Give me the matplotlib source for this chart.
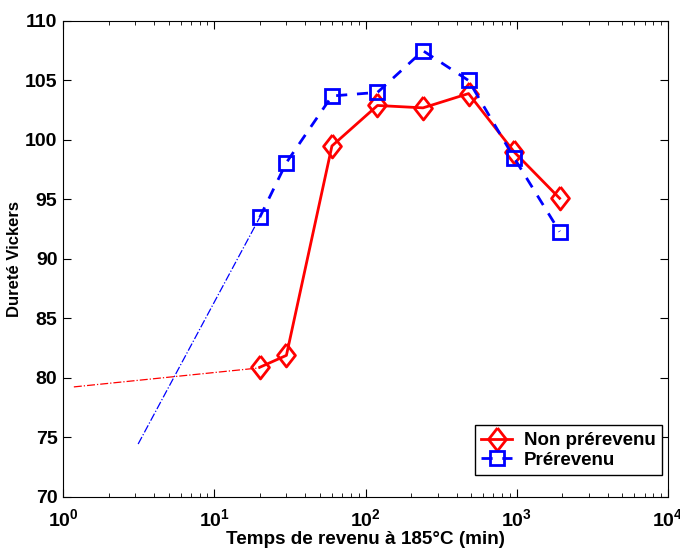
import matplotlib
matplotlib.use('Agg')  # Use non-interactive backend
import matplotlib.pyplot as plt
from matplotlib.ticker import LogLocator, FixedLocator

plt.rcParams['font.family'] = ['Liberation Sans', 'DejaVu Sans']
plt.rcParams['font.weight'] = 'bold'
plt.rcParams['mathtext.default'] = 'bf'

# measured times (min) and hardness
times = [20, 30, 60, 120, 240, 480, 960, 1920]
hv_non_prerevenu = [80.9, 81.9, 99.5, 102.9, 102.7, 103.9, 99.0, 95.1]
hv_prerevenu = [93.5, 98.1, 103.7, 104.0, 107.5, 105.0, 98.5, 92.3]

# extrapolation segments towards short times
extra_red_x = [1.18, 20]
extra_red_y = [79.25, 80.85]
extra_blue_x = [3.14, 20]
extra_blue_y = [74.45, 93.5]

yticks = [70, 75, 80, 85, 90, 95, 100, 105, 110]

# matlab-like diamond, a bit taller than wide
diamond = [(0, 1), (0.78, 0), (0, -1), (-0.78, 0), (0, 1)]

fig = plt.figure(figsize=(6.8, 5.48), dpi=100)
ax = fig.add_axes([0.0926, 0.0931, 0.8898, 0.8686])

ax.plot(extra_red_x, extra_red_y, color='red', linestyle='-.', linewidth=0.9)
ax.plot(extra_blue_x, extra_blue_y, color='blue', linestyle='-.', linewidth=0.9)

ax.plot(times, hv_non_prerevenu, color='red', linestyle='-', linewidth=2,
        marker=diamond, markersize=16.5, markerfacecolor='none', markeredgewidth=2,
        label='Non prérevenu')
ax.plot(times, hv_prerevenu, color='blue', linestyle='--', linewidth=2,
        dashes=(4, 3.5), marker='s', markersize=10, markerfacecolor='none',
        markeredgewidth=2, label='Prérevenu')

ax.set_xscale('log')
ax.set_xlim(1, 1e4)
ax.set_ylim(70, 110)
ax.yaxis.set_major_locator(FixedLocator(yticks))
ax.xaxis.set_major_locator(LogLocator(base=10, numticks=10))
ax.xaxis.set_minor_locator(LogLocator(base=10, subs=range(2, 10), numticks=20))

ax.tick_params(which='both', direction='in', top=True, right=True)
ax.tick_params(which='major', length=6, labelsize=14)
ax.tick_params(axis='x', which='major', pad=8)
ax.tick_params(axis='y', which='major', pad=4)
ax.tick_params(which='minor', length=3)
for lbl in ax.get_xticklabels() + ax.get_yticklabels():
    lbl.set_fontweight('bold')

ax.set_xlabel('Temps de revenu à 185°C (min)', fontsize=13.6, fontweight='bold', labelpad=1)
ax.set_ylabel('Dureté Vickers', fontsize=12, fontweight='bold', labelpad=2)

leg = ax.legend(loc='lower right', bbox_to_anchor=(0.990, 0.046), borderaxespad=0,
                fontsize=13.5, frameon=True, fancybox=False, edgecolor='black',
                framealpha=1, handlelength=1.65, handletextpad=0.6,
                borderpad=0.35, labelspacing=0.12)
leg.get_frame().set_linewidth(1)
for t in leg.get_texts():
    t.set_fontweight('bold')

fig.savefig('out.png', dpi=100)
